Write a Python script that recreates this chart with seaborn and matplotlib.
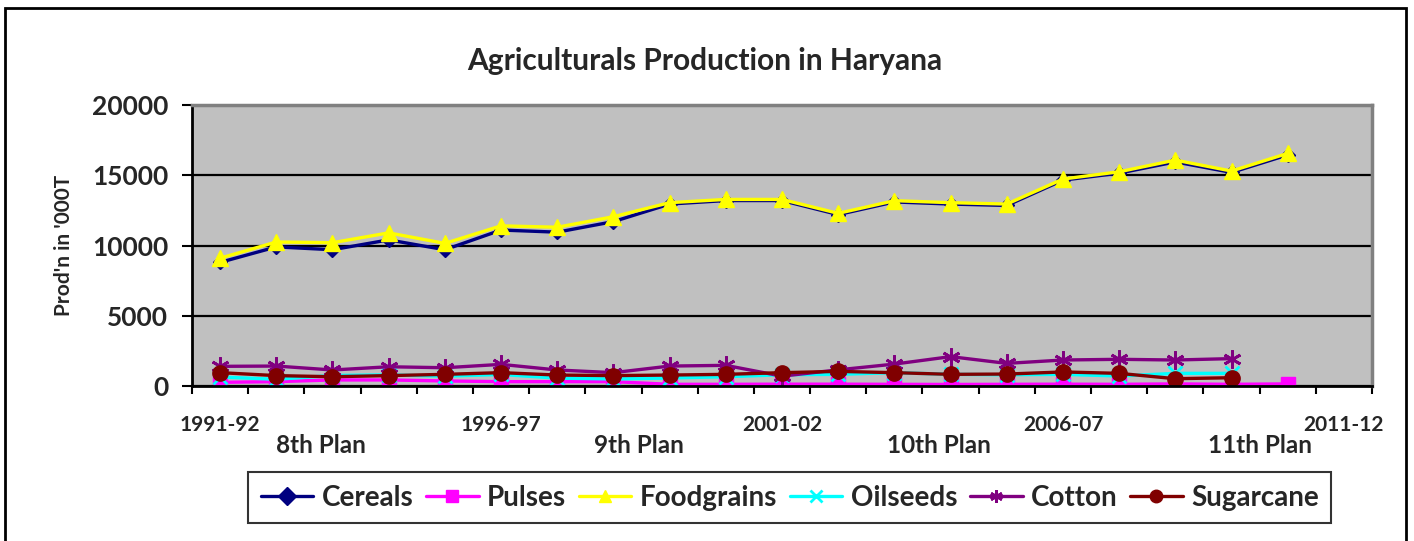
import numpy as np
import pandas as pd
import matplotlib
matplotlib.use("Agg")
import matplotlib.pyplot as plt
import matplotlib.patches as mpatches
import matplotlib.transforms as mtransforms
import seaborn as sns

nan = np.nan

years = ["1991-92", "1992-93", "1993-94", "1994-95", "1995-96", "1996-97", "1997-98",
         "1998-99", "1999-00", "2000-01", "2001-02", "2002-03", "2003-04", "2004-05",
         "2005-06", "2006-07", "2007-08", "2008-09", "2009-10", "2010-11", "2011-12"]

cereals = [8800, 9900, 9700, 10400, 9700, 11100, 10950, 11700, 12950, 13200, 13200,
           12200, 13100, 12950, 12850, 14650, 15150, 15950, 15200, 16450, nan]
pulses = [260, 310, 430, 430, 360, 310, 310, 310, 120, 120, 130,
          130, 120, 110, 120, 130, 120, 150, 120, 150, nan]
foodgrains = [9100, 10250, 10200, 10900, 10150, 11400, 11300, 12050, 13050, 13280, 13280,
              12290, 13190, 13050, 12950, 14730, 15250, 16080, 15300, 16560, nan]
oilseeds = [640, 480, 750, 790, 700, 820, 560, 500, 570, 660, 800,
            830, 950, 830, 800, 830, 710, 900, 900, nan, nan]
cotton = [1400, 1420, 1140, 1370, 1300, 1540, 1140, 950, 1420, 1470, 700,
          1150, 1560, 2090, 1610, 1850, 1900, 1850, 1950, nan, nan]
sugarcane = [950, 740, 660, 740, 830, 950, 780, 740, 780, 830, 950,
             1040, 950, 830, 850, 1000, 900, 520, 590, nan, nan]

plan_labels = ["8th Plan", "9th Plan", "10th Plan", "11th Plan"]
plan_pos = [1.8, 7.45, 12.8, 18.5]

series = [
    ("Cereals", cereals, "#000080", "D", 7),
    ("Pulses", pulses, "#FF00FF", "s", 10),
    ("Foodgrains", foodgrains, "#FFFF00", "^", 12),
    ("Oilseeds", oilseeds, "#00FFFF", "x", 10),
    ("Cotton", cotton, "#800080", (6, 2, 0), 13),
    ("Sugarcane", sugarcane, "#800000", "o", 11),
]

sns.set_theme(style="white")
plt.rcParams["font.family"] = ["Lato", "DejaVu Sans"]
plt.rcParams["font.weight"] = "bold"

fig = plt.figure(figsize=(14.14, 5.41), dpi=100)
ax = fig.add_axes([0.1358, 0.2865, 0.8345, 0.5194])
ax.set_facecolor("#C0C0C0")

x = np.arange(len(years))
for name, vals, color, marker, ms in series:
    df = pd.DataFrame({"x": x, "y": vals}).dropna()
    sns.lineplot(data=df, x="x", y="y", ax=ax, color=color, marker=marker,
                 markersize=ms, linewidth=2.4, markeredgecolor=color,
                 markeredgewidth=2 if name in ("Oilseeds", "Cotton") else 1,
                 label=name)

ax.set_ylim(0, 20000)
ax.set_xlim(-0.5, len(years) - 0.5)
ax.set_yticks([0, 5000, 10000, 15000, 20000])
ax.yaxis.grid(True, color="black", linewidth=1.6)
ax.set_axisbelow(True)
ax.tick_params(axis="y", labelsize=19, direction="out", length=7, width=1.5,
               color="black", left=True, pad=10)
for lbl in ax.get_yticklabels():
    lbl.set_fontweight("bold")

ax.set_xticks(x[::5])
ax.set_xticklabels(years[::5], fontsize=15, fontweight="bold")
ax.tick_params(axis="x", length=0, pad=21)
ax.set_xticks(np.arange(-0.5, len(years)), minor=True)
ax.tick_params(axis="x", which="minor", direction="out", length=6, width=1.5,
               color="black", bottom=True)

ax.set_xlabel("")
ax.set_ylabel("Prod'n in '000T", fontsize=15, fontweight="bold", labelpad=13)

for side in ["left", "bottom"]:
    ax.spines[side].set_color("black")
    ax.spines[side].set_linewidth(2)
for side in ["top", "right"]:
    ax.spines[side].set_color("#808080")
    ax.spines[side].set_linewidth(2.5)

trans = mtransforms.blended_transform_factory(ax.transData, ax.transAxes)
for lbl, pos in zip(plan_labels, plan_pos):
    ax.text(pos, -0.2135, lbl, transform=trans, ha="center", va="center",
            fontsize=17.5, fontweight="bold")

fig.text(0.4985, 0.888, "Agriculturals Production in Haryana", ha="center",
         va="center", fontsize=21.5, fontweight="bold")

handles, labels = ax.get_legend_handles_labels()
ax.legend_.remove()
leg = fig.legend(handles, labels, loc="center", bbox_to_anchor=(0.5585, 0.0795),
                 ncol=6, frameon=True, fancybox=False, edgecolor="black",
                 prop={"size": 20, "weight": "bold"}, handlelength=1.9,
                 columnspacing=0.45, handletextpad=0.3, borderpad=0.45)
leg.get_frame().set_linewidth(1.5)
for line in leg.get_lines():
    line.set_markersize(9)

border = mpatches.Rectangle((5 / 1414, -0.1), 1401 / 1414, 1.1 - 8 / 541,
                            transform=fig.transFigure, fill=False,
                            edgecolor="black", linewidth=2, clip_on=False)
fig.patches.append(border)

fig.savefig("out.png", dpi=100)
